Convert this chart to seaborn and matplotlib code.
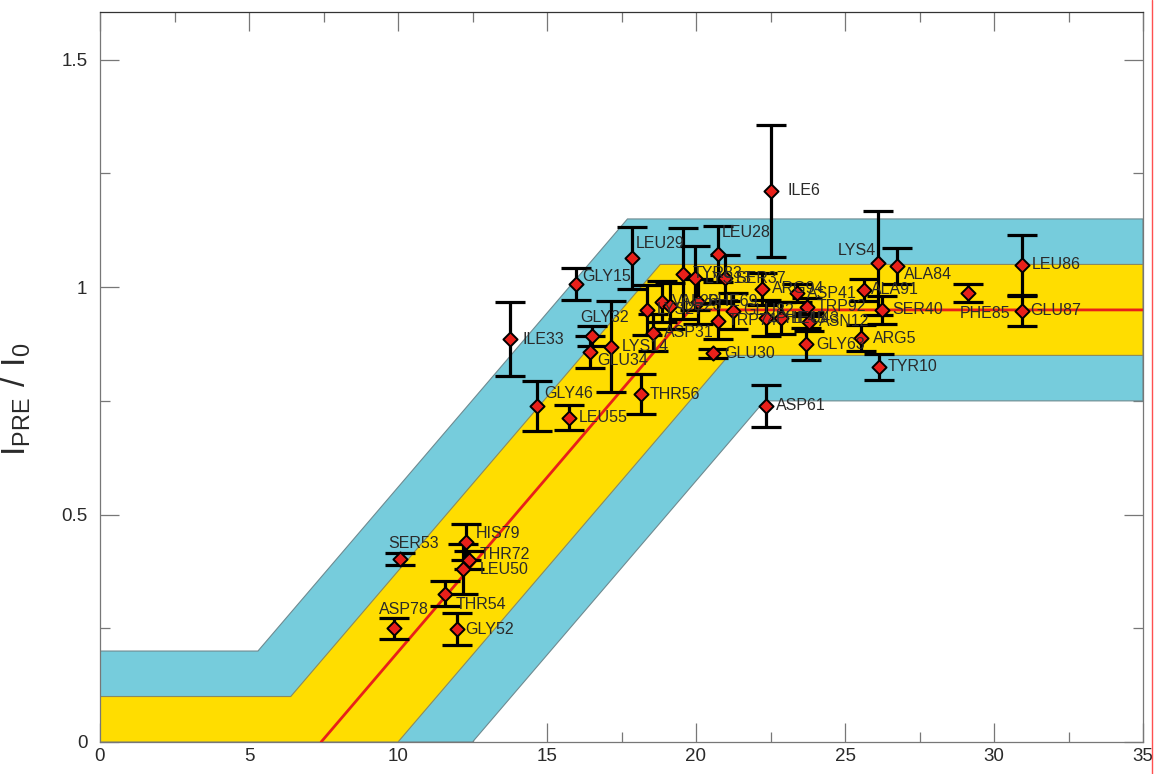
import numpy as np
import matplotlib
matplotlib.use("Agg")
import matplotlib.pyplot as plt
from matplotlib.ticker import MultipleLocator, FuncFormatter
from matplotlib.lines import Line2D
import seaborn as sns

# ---------------- data ----------------
names = ["ILE6", "LEU29", "LEU28", "GLY15", "ILE33", "GLY32", "GLU34", "LYS14",
         "GLY46", "LEU55", "THR56", "GLU30", "ASP61", "ASP31",
         "LYS27", "VAL26", "ILE23", "PHE69", "GLU82", "TRP74", "TYR83", "LYS13",
         "SER37", "ARG94", "PHE45", "LEU43", "ASP41", "TRP92", "ASN12", "GLY63",
         "LYS4", "ALA84", "ALA91", "SER40", "ARG5", "TYR10", "PHE85", "LEU86", "GLU87",
         "SER53", "HIS79", "THR72", "LEU50", "THR54", "ASP78", "GLY52"]
x_vals = [22.52, 17.85, 20.74, 15.97, 13.76, 16.50, 16.45, 17.15,
          14.66, 15.74, 18.15, 20.57, 22.35, 18.56,
          18.36, 18.86, 19.13, 20.07, 21.24, 20.74, 19.56, 19.97,
          20.97, 22.21, 22.35, 22.85, 23.39, 23.72, 23.79, 23.69,
          26.10, 26.74, 25.64, 26.24, 25.54, 26.14, 29.13, 30.94, 30.94,
          10.07, 12.28, 12.38, 12.18, 11.58, 9.87, 11.98]
y_vals = [1.212, 1.064, 1.073, 1.007, 0.886, 0.893, 0.858, 0.869,
          0.739, 0.713, 0.765, 0.855, 0.739, 0.900,
          0.950, 0.968, 0.959, 0.968, 0.948, 0.926, 1.029, 1.020,
          1.020, 0.996, 0.932, 0.932, 0.987, 0.957, 0.924, 0.875,
          1.053, 1.047, 0.994, 0.950, 0.888, 0.825, 0.988, 1.049, 0.948,
          0.402, 0.440, 0.400, 0.380, 0.326, 0.250, 0.248]
y_err = [0.145, 0.068, 0.062, 0.035, 0.082, 0.022, 0.035, 0.100,
         0.055, 0.028, 0.043, 0.010, 0.047, 0.040,
         0.055, 0.045, 0.050, 0.050, 0.040, 0.040, 0.100, 0.070,
         0.050, 0.035, 0.040, 0.035, 0.020, 0.020, 0.020, 0.035,
         0.115, 0.040, 0.025, 0.030, 0.028, 0.028, 0.020, 0.066, 0.033,
         0.013, 0.040, 0.020, 0.055, 0.027, 0.023, 0.035]

# model curve (red, drawn where it rises above zero) and tolerance bands: knot points
curve_x = [7.42, 19.8, 35]
curve_y = [0, 0.95, 0.95]
inner_top_x = [0, 6.4, 18.8, 35]
inner_top_y = [0.10, 0.10, 1.05, 1.05]
inner_bot_x = [0, 10.0, 21.1, 35]
inner_bot_y = [0, 0, 0.85, 0.85]
outer_top_x = [0, 5.3, 17.7, 35]
outer_top_y = [0.20, 0.20, 1.15, 1.15]
outer_bot_x = [0, 12.5, 22.3, 35]
outer_bot_y = [0, 0, 0.75, 0.75]

x_ticks = [0, 5, 10, 15, 20, 25, 30, 35]
y_ticks = [0, 0.5, 1, 1.5]

# label offsets (pixels) and alignment
label_style = {
    "ILE6": (16, 0, "left"), "LEU29": (4, 15, "left"), "LEU28": (4, 21, "left"),
    "GLY15": (6, 7, "left"), "ILE33": (12, 0, "left"), "GLY32": (-11, 18, "left"),
    "GLU34": (7, -9, "left"), "LYS14": (11, 0, "left"), "GLY46": (7, 12, "left"),
    "LEU55": (10, 0, "left"), "THR56": (9, 0, "left"), "GLU30": (11, 0, "left"),
    "ASP61": (10, 0, "left"), "ASP31": (11, 0, "left"),
    "LYS4": (-2, 13, "right"), "ALA84": (7, -9, "left"), "ALA91": (7, 0, "left"),
    "SER40": (10, 0, "left"), "ARG5": (12, 0, "left"), "TYR10": (9, 0, "left"),
    "PHE85": (-8, -21, "left"), "LEU86": (10, 0, "left"), "GLU87": (8, 0, "left"),
    "SER53": (-12, 16, "left"), "HIS79": (10, 8, "left"), "THR72": (11, 6, "left"),
    "LEU50": (17, 0, "left"), "THR54": (11, -11, "left"), "ASP78": (-15, 19, "left"),
    "GLY52": (8, 0, "left"),
}

# ---------------- style ----------------
sns.set_theme(style="ticks")
plt.rcParams["font.family"] = ["Liberation Sans", "DejaVu Sans"]
plt.rcParams["mathtext.fontset"] = "custom"
plt.rcParams["mathtext.rm"] = "Liberation Sans"

CYAN = "#76CCDC"
YELLOW = "#FFDD00"
RED = "#E8201A"
TXT = "#2a2a2a"

fig = plt.figure(figsize=(11.56, 7.74), dpi=100)
ax = fig.add_axes([100 / 1156, 1 - 742 / 774, 1043 / 1156, 730 / 774])

# bands
ax.fill(np.concatenate([outer_top_x, outer_bot_x[::-1]]),
        np.concatenate([outer_top_y, outer_bot_y[::-1]]),
        facecolor=CYAN, edgecolor="#6e8a90", linewidth=0.8, zorder=1)
ax.fill(np.concatenate([inner_top_x, inner_bot_x[::-1]]),
        np.concatenate([inner_top_y, inner_bot_y[::-1]]),
        facecolor=YELLOW, edgecolor="#8a8a60", linewidth=0.8, zorder=2)

sns.lineplot(x=curve_x, y=curve_y, color=RED, linewidth=2.0, ax=ax,
             errorbar=None, sort=False, zorder=3)

ax.errorbar(x_vals, y_vals, yerr=y_err, fmt="none", ecolor="black",
            elinewidth=2.3, capsize=10.5, capthick=2.3, zorder=4)

sns.scatterplot(x=x_vals, y=y_vals, marker="D", s=52, color=RED,
                edgecolor="black", linewidth=1.4, ax=ax, zorder=5)

for n, xv, yv in zip(names, x_vals, y_vals):
    dx, dy, ha = label_style.get(n, (10, 0, "left"))
    ax.annotate(n, (xv, yv), xytext=(dx, dy), textcoords="offset pixels",
                ha=ha, va="center", fontsize=11.5, color=TXT, zorder=6)

ax.set_xlim(0, 35)
ax.set_ylim(0, 1.605)
ax.set_xticks(x_ticks)
ax.set_yticks(y_ticks)
ax.xaxis.set_minor_locator(MultipleLocator(2.5))
ax.yaxis.set_minor_locator(MultipleLocator(0.25))
fmt = FuncFormatter(lambda v, p: f"{v:g}")
ax.xaxis.set_major_formatter(fmt)
ax.yaxis.set_major_formatter(fmt)
ax.tick_params(which="both", direction="in", top=True, right=True,
               color="#777777", width=0.9, labelsize=13.5, labelcolor=TXT)
ax.tick_params(which="major", length=14)
ax.tick_params(which="minor", length=7.5)
ax.tick_params(axis="y", pad=9)
ax.tick_params(axis="x", pad=4)
for sp in ax.spines.values():
    sp.set_color("#777777")
    sp.set_linewidth(0.9)
ax.spines["top"].set_color("#333333")

ax.set_xlabel("")
ax.set_ylabel(r"$\mathregular{I_{PRE}\ /\ I_0}$", fontsize=24, color=TXT)
ax.yaxis.set_label_coords(-0.064, 0.47)

fig.add_artist(Line2D([1152 / 1156, 1152 / 1156], [0, 1], color="#ff5050",
                      linewidth=1.0, transform=fig.transFigure))

fig.savefig("out.png", dpi=100)
